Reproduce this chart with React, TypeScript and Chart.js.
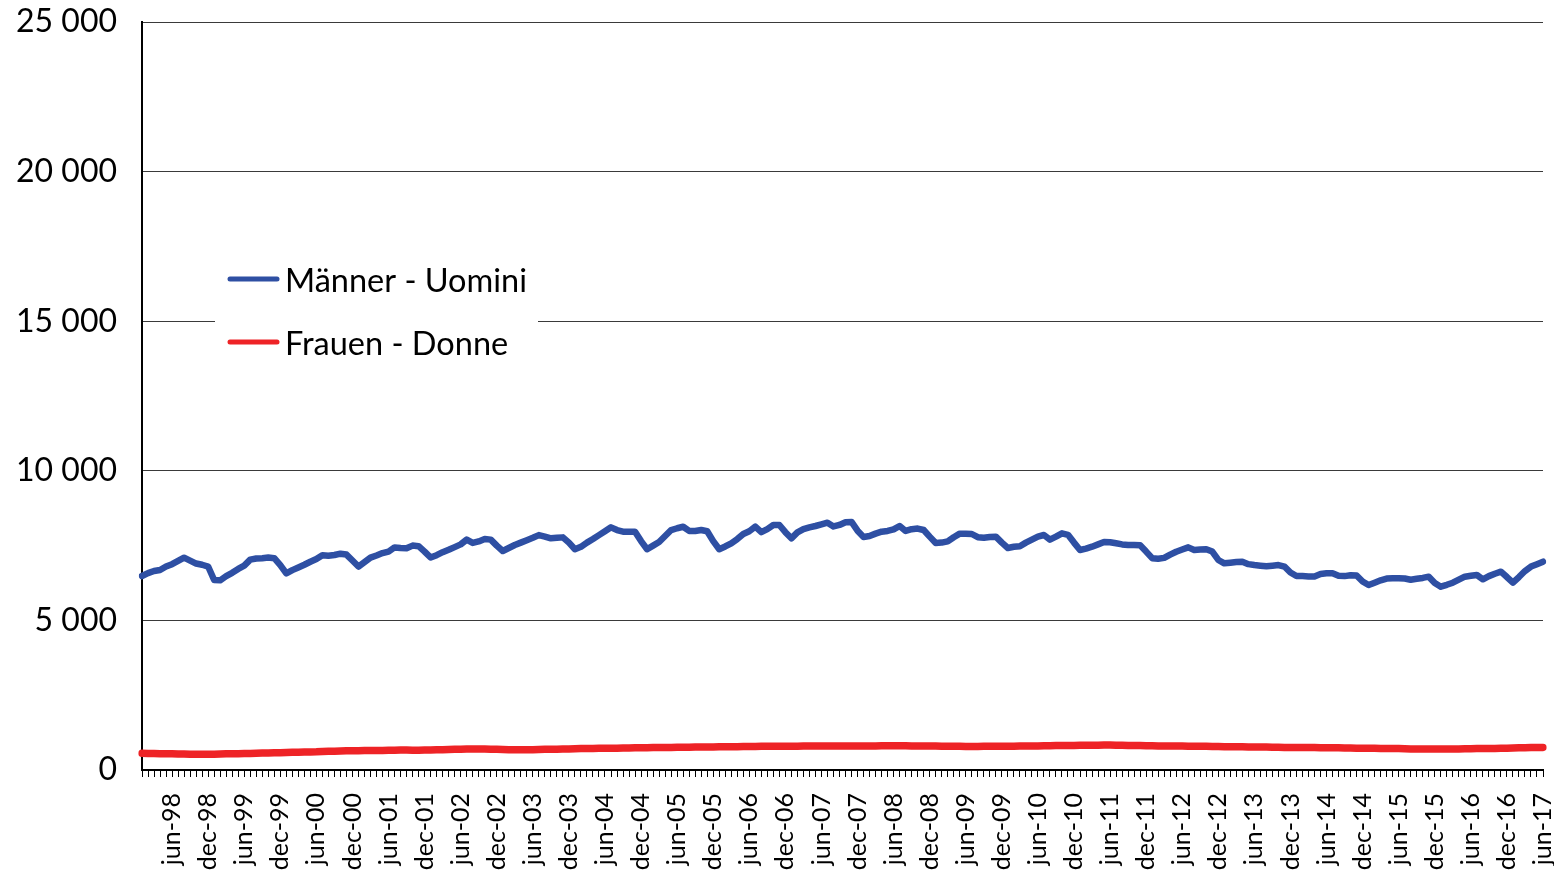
import React, { useEffect, useRef } from 'react';
import { Chart, registerables } from 'chart.js';

Chart.register(...registerables);

const MONTHS = ['jan', 'feb', 'mar', 'apr', 'may', 'jun', 'jul', 'aug', 'sep', 'oct', 'nov', 'dec'];
const YEARS = ['98', '99', '00', '01', '02', '03', '04', '05', '06', '07', '08', '09', '10', '11', '12', '13', '14', '15', '16', '17'];
const LAST_YEAR_MONTHS = 6;

const categories: string[] = [];
YEARS.forEach((y, yi) => {
  const n = yi === YEARS.length - 1 ? LAST_YEAR_MONTHS : 12;
  for (let m = 0; m < n; m++) categories.push(`${MONTHS[m]}-${y}`);
});

const SHOWN_MONTHS = ['jun', 'dec'];

const men: number[] = [
  6484, 6580, 6650, 6684, 6800, 6880, 6990, 7096, 7000, 6900, 6860, 6800,
  6350, 6340, 6480, 6590, 6720, 6830, 7030, 7070, 7080, 7100, 7080, 6850,
  6573, 6680, 6770, 6860, 6960, 7050, 7180, 7160, 7186, 7230, 7200, 7000,
  6800, 6950, 7100, 7170, 7250, 7300, 7440, 7420, 7410, 7500, 7480, 7300,
  7100, 7180, 7280, 7360, 7450, 7540, 7700, 7590, 7640, 7720, 7700, 7500,
  7320, 7420, 7520, 7600, 7680, 7760, 7850, 7800, 7742, 7760, 7775, 7600,
  7380, 7460, 7600, 7720, 7850, 7980, 8110, 8020, 7965, 7965, 7965, 7650,
  7380, 7500, 7620, 7820, 8021, 8080, 8130, 7990, 7990, 8021, 7980, 7650,
  7380, 7470, 7576, 7720, 7888, 7980, 8132, 7950, 8050, 8188, 8188, 7950,
  7742, 7940, 8050, 8110, 8155, 8210, 8266, 8140, 8190, 8280, 8290, 8000,
  7790, 7821, 7900, 7965, 7990, 8040, 8155, 7990, 8050, 8070, 8021, 7800,
  7590, 7600, 7640, 7780, 7900, 7900, 7888, 7780, 7760, 7790, 7798, 7600,
  7420, 7460, 7480, 7600, 7700, 7800, 7854, 7700, 7800, 7910, 7860, 7600,
  7353, 7400, 7463, 7540, 7620, 7610, 7576, 7540, 7520, 7520, 7510, 7300,
  7080, 7060, 7090, 7200, 7296, 7370, 7441, 7353, 7370, 7380, 7300, 7020,
  6907, 6930, 6950, 6960, 6880, 6850, 6830, 6810, 6830, 6850, 6800, 6600,
  6484, 6480, 6470, 6470, 6550, 6573, 6573, 6490, 6480, 6510, 6500, 6300,
  6183, 6260, 6340, 6400, 6406, 6406, 6400, 6360, 6390, 6420, 6462, 6250,
  6126, 6190, 6260, 6360, 6462, 6490, 6517, 6373, 6480, 6560, 6628, 6450,
  6260, 6450, 6650, 6800, 6880, 6962,
];

const women: number[] = [
  560, 555, 550, 545, 540, 540, 535, 535, 530, 530, 525, 525,
  530, 535, 540, 540, 545, 550, 555, 560, 565, 570, 575, 580,
  585, 590, 595, 600, 605, 610, 620, 625, 630, 635, 640, 640,
  645, 650, 650, 655, 655, 660, 660, 665, 665, 660, 660, 665,
  670, 675, 680, 685, 690, 695, 700, 705, 705, 700, 695, 690,
  685, 680, 680, 675, 675, 680, 685, 690, 690, 695, 700, 705,
  710, 715, 720, 720, 725, 725, 730, 730, 735, 735, 740, 745,
  745, 750, 750, 755, 755, 760, 760, 760, 765, 765, 770, 770,
  775, 775, 780, 780, 785, 785, 785, 790, 790, 790, 790, 795,
  795, 795, 800, 800, 800, 800, 800, 805, 805, 805, 805, 805,
  805, 805, 805, 810, 810, 810, 810, 810, 805, 805, 805, 800,
  800, 795, 795, 790, 790, 785, 785, 785, 790, 790, 790, 790,
  795, 795, 800, 800, 805, 805, 810, 810, 815, 815, 820, 820,
  825, 825, 830, 830, 835, 835, 830, 825, 820, 815, 815, 810,
  810, 805, 805, 800, 800, 800, 795, 795, 790, 790, 785, 785,
  780, 780, 775, 775, 770, 770, 765, 765, 760, 760, 755, 755,
  755, 750, 750, 750, 745, 745, 740, 740, 735, 735, 730, 730,
  725, 725, 720, 720, 715, 715, 710, 705, 705, 700, 700, 700,
  700, 700, 705, 705, 710, 710, 715, 715, 720, 720, 725, 730,
  735, 740, 745, 750, 750, 755,
];

const SERIES_NAMES = ['Männer - Uomini', 'Frauen - Donne'];
const SERIES_COLORS = ['#2E4FA3', '#EE2326'];
const Y_MAX = 25000;
const Y_STEP = 5000;

const FONT = 'Lato, "Open Sans", sans-serif';

const fmt = (v: number) => String(v).replace(/\B(?=(\d{3})+(?!\d))/g, ' ');

const legendPlugin = {
  id: 'innerLegend',
  afterDatasetsDraw(chart: any) {
    const ctx = chart.ctx;
    ctx.save();
    ctx.fillStyle = '#ffffff';
    ctx.fillRect(215, 250, 323, 122);
    const rows = [279, 342];
    rows.forEach((y, i) => {
      ctx.strokeStyle = SERIES_COLORS[i];
      ctx.lineWidth = 5;
      ctx.lineCap = 'round';
      ctx.beginPath();
      ctx.moveTo(230, y);
      ctx.lineTo(277, y);
      ctx.stroke();
      ctx.fillStyle = '#000';
      ctx.font = `32.5px ${FONT}`;
      ctx.textBaseline = 'middle';
      ctx.textAlign = 'left';
      ctx.fillText(SERIES_NAMES[i], 285, y + 3);
    });
    ctx.restore();
  },
};

export default function App() {
  const ref = useRef<HTMLCanvasElement | null>(null);
  useEffect(() => {
    if (!ref.current) return;
    const chart = new Chart(ref.current, {
      type: 'line',
      data: {
        labels: categories,
        datasets: [
          {
            label: SERIES_NAMES[0],
            data: men,
            borderColor: SERIES_COLORS[0],
            borderWidth: 6.5,
            pointRadius: 0,
            tension: 0,
            borderJoinStyle: 'round',
            borderCapStyle: 'round',
          },
          {
            label: SERIES_NAMES[1],
            data: women,
            borderColor: SERIES_COLORS[1],
            borderWidth: 7.5,
            pointRadius: 0,
            tension: 0,
            borderJoinStyle: 'round',
            borderCapStyle: 'round',
          },
        ],
      },
      options: {
        animation: false,
        responsive: true,
        maintainAspectRatio: false,
        layout: { padding: { left: 0, top: 22, right: 11, bottom: 0 } },
        plugins: { legend: { display: false }, tooltip: { enabled: false } },
        scales: {
          x: {
            type: 'category',
            offset: false,
            grid: { drawOnChartArea: false, drawTicks: true, tickLength: 7, color: '#000', lineWidth: 1 },
            border: { color: '#000', width: 2 },
            ticks: {
              autoSkip: false,
              maxRotation: 90,
              minRotation: 90,
              padding: 16,
              color: '#000',
              font: { family: FONT, size: 25 },
              callback: (_v: any, i: number) => {
                const lab = categories[i];
                return SHOWN_MONTHS.includes(lab.slice(0, 3)) ? lab : '';
              },
            },
            afterFit: (s: any) => {
              s.height = 102;
              s.paddingLeft = 0;
              s.paddingRight = 0;
            },
          },
          y: {
            min: 0,
            max: Y_MAX,
            grid: { drawTicks: false, color: '#3a3a3a', lineWidth: 1 },
            border: { color: '#000', width: 2 },
            ticks: {
              stepSize: Y_STEP,
              padding: 25,
              color: '#000',
              font: { family: FONT, size: 32 },
              callback: (v: any) => fmt(Number(v)),
            },
            afterFit: (s: any) => {
              s.width = 142;
              s.paddingTop = 0;
              s.paddingBottom = 0;
            },
          },
        },
      },
      plugins: [legendPlugin],
    });
    return () => chart.destroy();
  }, []);
  return (
    <div style={{ position: 'fixed', left: 0, top: 0, width: 1554, height: 872, background: '#fff' }}>
      <canvas ref={ref} />
    </div>
  );
}
